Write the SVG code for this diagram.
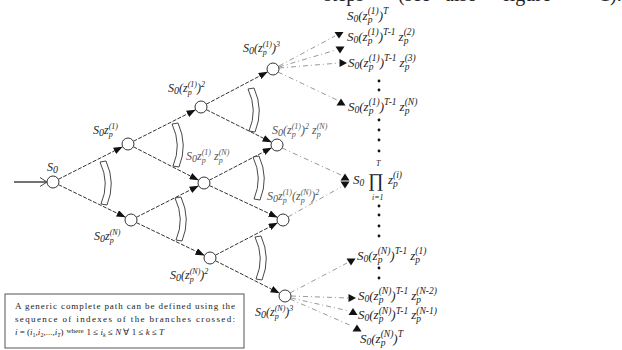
<svg xmlns="http://www.w3.org/2000/svg" width="622" height="350" viewBox="0 0 622 350">
<defs>
<style>
.m{font-family:"Liberation Serif","Times New Roman",serif;font-style:italic;font-size:12px;fill:#222}
.r{font-size:13px}
.b{font-size:8px}
.rb{font-size:9.5px}
.c{font-size:10px}
.g{fill:#555}
.nd{fill:#fff;stroke:#333;stroke-width:1}
.e{stroke:#333;stroke-width:1;stroke-dasharray:4 1.5;fill:none}
.d{stroke:#999;stroke-width:1;stroke-dasharray:5 3 1 3;fill:none}
.ah{fill:#111}
.br{fill:#fff;stroke:#333;stroke-width:0.9}
.bx{font-family:"Liberation Serif","Times New Roman",serif;font-size:9px;fill:#222}
.top{font-family:"Liberation Serif","Times New Roman",serif;font-size:20px;fill:#222}
.dot{fill:#111}
.pr{font-family:"Liberation Serif","Times New Roman",serif;font-size:19px;fill:#222}
</style>
<marker id="ar" markerWidth="9" markerHeight="7" refX="9" refY="3.5" orient="auto" markerUnits="userSpaceOnUse"><path d="M0,0 L9,3.5 L0,7 z" fill="#111"/></marker>
<path id="brk" d="M-5,-21 Q5,0 -4,21 L2,22 Q11,0 1,-22 Z"/>
</defs>

<g id="page-text">
<text class="top" x="324" y="0.5">steps</text>
<text class="top" x="398" y="0.5">(see</text>
<text class="top" x="445" y="0.5">also</text>
<text class="top" x="503" y="0.5">figure</text>
<text class="top" x="600" y="0.5">1).</text>
</g>

<g id="connectors">
<line x1="14" y1="182" x2="46" y2="182" stroke="#444" stroke-width="1.5"/>
<polyline points="40,177.5 47,182 40,186.5" fill="none" stroke="#444" stroke-width="1"/>
<line class="e" x1="58.35" y1="179.29" x2="122.65" y2="146.71" marker-end="url(#ar)"/>
<line class="e" x1="58.39" y1="184.63" x2="125.61" y2="217.37" marker-end="url(#ar)"/>
<line class="e" x1="133.35" y1="141.29" x2="195.65" y2="109.71" marker-end="url(#ar)"/>
<line class="e" x1="133.34" y1="146.74" x2="198.66" y2="180.26" marker-end="url(#ar)"/>
<line class="e" x1="136.35" y1="217.29" x2="198.65" y2="185.71" marker-end="url(#ar)"/>
<line class="e" x1="136.41" y1="222.6" x2="204.59" y2="255.4" marker-end="url(#ar)"/>
<line class="e" x1="206.31" y1="104.2" x2="267.69" y2="71.8" marker-end="url(#ar)"/>
<line class="e" x1="206.37" y1="109.68" x2="271.63" y2="142.32" marker-end="url(#ar)"/>
<line class="e" x1="209.32" y1="180.23" x2="271.68" y2="147.77" marker-end="url(#ar)"/>
<line class="e" x1="209.43" y1="185.54" x2="277.57" y2="217.46" marker-end="url(#ar)"/>
<line class="e" x1="215.32" y1="255.23" x2="277.68" y2="222.77" marker-end="url(#ar)"/>
<line class="e" x1="215.35" y1="260.71" x2="279.65" y2="293.29" marker-end="url(#ar)"/>

<line class="d" x1="279" y1="66" x2="335" y2="36"/>
<line class="d" x1="279" y1="67" x2="336" y2="50"/>
<line class="d" x1="279" y1="68" x2="339" y2="63"/>
<line class="d" x1="278" y1="72" x2="337" y2="100"/>
<line class="d" x1="282" y1="148" x2="341" y2="175"/>
<line class="d" x1="288" y1="217" x2="341" y2="187"/>
<line class="d" x1="290" y1="293" x2="347" y2="263"/>
<line class="d" x1="291" y1="296" x2="348" y2="298"/>
<line class="d" x1="291" y1="298" x2="349" y2="311"/>
<line class="d" x1="290" y1="299" x2="352" y2="326"/>

<polygon class="ah" points="334.5,32 343.5,32 339,38.5"/>
<polygon class="ah" points="335.5,46.5 344.5,46.5 340,53.5"/>
<polygon class="ah" points="339.5,59 339.5,67 347,63"/>
<polygon class="ah" points="336.5,105.5 345.5,105.5 341,98.5"/>
<polygon class="ah" points="340.5,180.5 349.5,180.5 345,173.5"/>
<polygon class="ah" points="340.5,181.5 349.5,181.5 345,188.5"/>
<polygon class="ah" points="346.5,258.5 355.5,258.5 351,265.5"/>
<polygon class="ah" points="348.5,294 348.5,302 356,298"/>
<polygon class="ah" points="348.5,315 357.5,315 353,308"/>
<polygon class="ah" points="352.5,331.5 361.5,331.5 357,324.5"/>
</g>

<g id="brackets">
<use href="#brk" class="br" transform="translate(105,183)"/>
<use href="#brk" class="br" transform="translate(177,145)"/>
<use href="#brk" class="br" transform="translate(180,219)"/>
<use href="#brk" class="br" transform="translate(253,110)"/>
<use href="#brk" class="br" transform="translate(258,178)"/>
<use href="#brk" class="br" transform="translate(260,258)"/>
</g>

<g id="n0">
<circle class="nd" cx="53" cy="182" r="6"/>
<text class="m" x="47" y="171">S<tspan class="c" dy="2">0</tspan></text>
</g>
<g id="n1a">
<circle class="nd" cx="128" cy="144" r="6"/>
<text class="m" x="93" y="134">S<tspan class="c" dy="2">0</tspan><tspan dy="-2">z</tspan><tspan class="b" dy="3">p</tspan><tspan class="b" dx="-4" dy="-8">(1)</tspan></text>
</g>
<g id="n1b">
<circle class="nd" cx="131" cy="220" r="6"/>
<text class="m" x="94" y="240">S<tspan class="c" dy="2">0</tspan><tspan dy="-2">z</tspan><tspan class="b" dy="3">p</tspan><tspan class="b" dx="-4" dy="-8">(N)</tspan></text>
</g>
<g id="n2a">
<circle class="nd" cx="201" cy="107" r="6"/>
<text class="m" x="168" y="92">S<tspan class="c" dy="2">0</tspan><tspan dy="-2">(z</tspan><tspan class="b" dy="3">p</tspan><tspan class="b" dx="-4" dy="-8">(1)</tspan><tspan dy="5">)</tspan><tspan class="b" dy="-5">2</tspan></text>
</g>
<g id="n2b">
<circle class="nd" cx="204" cy="183" r="6"/>
<text class="m g" x="186" y="160">S<tspan class="c" dy="2">0</tspan><tspan dy="-2">z</tspan><tspan class="b" dy="3">p</tspan><tspan class="b" dx="-4" dy="-8">(1)</tspan><tspan dy="5" dx="3">z</tspan><tspan class="b" dy="3">p</tspan><tspan class="b" dx="-4" dy="-8">(N)</tspan></text>
</g>
<g id="n2c">
<circle class="nd" cx="210" cy="258" r="6"/>
<text class="m" x="170" y="279">S<tspan class="c" dy="2">0</tspan><tspan dy="-2">(z</tspan><tspan class="b" dy="3">p</tspan><tspan class="b" dx="-4" dy="-8">(N)</tspan><tspan dy="5">)</tspan><tspan class="b" dy="-5">2</tspan></text>
</g>
<g id="n3a">
<circle class="nd" cx="273" cy="69" r="6"/>
<text class="m" x="243" y="52">S<tspan class="c" dy="2">0</tspan><tspan dy="-2">(z</tspan><tspan class="b" dy="3">p</tspan><tspan class="b" dx="-4" dy="-8">(1)</tspan><tspan dy="5">)</tspan><tspan class="b" dy="-5">3</tspan></text>
</g>
<g id="n3b">
<circle class="nd" cx="277" cy="145" r="6"/>
<text class="m g" x="272" y="134">S<tspan class="c" dy="2">0</tspan><tspan dy="-2">(z</tspan><tspan class="b" dy="3">p</tspan><tspan class="b" dx="-4" dy="-8">(1)</tspan><tspan dy="5">)</tspan><tspan class="b" dy="-5">2</tspan><tspan dy="5" dx="3">z</tspan><tspan class="b" dy="3">p</tspan><tspan class="b" dx="-4" dy="-8">(N)</tspan></text>
</g>
<g id="n3c">
<circle class="nd" cx="283" cy="220" r="6"/>
<text class="m g" x="267" y="200">S<tspan class="c" dy="2">0</tspan><tspan dy="-2">z</tspan><tspan class="b" dy="3">p</tspan><tspan class="b" dx="-4" dy="-8">(1)</tspan><tspan dy="5">(z</tspan><tspan class="b" dy="3">p</tspan><tspan class="b" dx="-4" dy="-8">(N)</tspan><tspan dy="5">)</tspan><tspan class="b" dy="-5">2</tspan></text>
</g>
<g id="n3d">
<circle class="nd" cx="285" cy="296" r="6"/>
<text class="m" x="255" y="316">S<tspan class="c" dy="2">0</tspan><tspan dy="-2">(z</tspan><tspan class="b" dy="3">p</tspan><tspan class="b" dx="-4" dy="-8">(N)</tspan><tspan dy="5">)</tspan><tspan class="b" dy="-5">3</tspan></text>
</g>

<g id="r1">
<text class="m r" x="347" y="20">S<tspan class="rb" dy="2">0</tspan><tspan dy="-2">(z</tspan><tspan class="rb" dy="3">p</tspan><tspan class="rb" dx="-4.75" dy="-9">(1)</tspan><tspan dy="6">)</tspan><tspan class="rb" dy="-6">T</tspan></text>
</g>
<g id="r2">
<text class="m r" x="347" y="41">S<tspan class="rb" dy="2">0</tspan><tspan dy="-2">(z</tspan><tspan class="rb" dy="3">p</tspan><tspan class="rb" dx="-4.75" dy="-9">(1)</tspan><tspan dy="6">)</tspan><tspan class="rb" dy="-6">T-1</tspan><tspan dy="6" dx="3">z</tspan><tspan class="rb" dy="3">p</tspan><tspan class="rb" dx="-4.75" dy="-9">(2)</tspan></text>
</g>
<g id="r3">
<text class="m r" x="348" y="67">S<tspan class="rb" dy="2">0</tspan><tspan dy="-2">(z</tspan><tspan class="rb" dy="3">p</tspan><tspan class="rb" dx="-4.75" dy="-9">(1)</tspan><tspan dy="6">)</tspan><tspan class="rb" dy="-6">T-1</tspan><tspan dy="6" dx="3">z</tspan><tspan class="rb" dy="3">p</tspan><tspan class="rb" dx="-4.75" dy="-9">(3)</tspan></text>
</g>
<g id="r4">
<text class="m r" x="348" y="111">S<tspan class="rb" dy="2">0</tspan><tspan dy="-2">(z</tspan><tspan class="rb" dy="3">p</tspan><tspan class="rb" dx="-4.75" dy="-9">(1)</tspan><tspan dy="6">)</tspan><tspan class="rb" dy="-6">T-1</tspan><tspan dy="6" dx="3">z</tspan><tspan class="rb" dy="3">p</tspan><tspan class="rb" dx="-4.75" dy="-9">(N)</tspan></text>
</g>
<g id="r5">
<text class="m r" x="353" y="184">S<tspan class="rb" dy="2">0</tspan></text>
<text class="pr" x="368" y="187">∏</text>
<text class="m b" x="376" y="166">T</text>
<text class="m b" x="372" y="200">i=1</text>
<text class="m r" x="388" y="184">z<tspan class="rb" dy="3">p</tspan><tspan class="rb" dx="-4.75" dy="-9">(i)</tspan></text>
</g>
<g id="r6">
<text class="m r" x="357" y="260">S<tspan class="rb" dy="2">0</tspan><tspan dy="-2">(z</tspan><tspan class="rb" dy="3">p</tspan><tspan class="rb" dx="-4.75" dy="-9">(N)</tspan><tspan dy="6">)</tspan><tspan class="rb" dy="-6">T-1</tspan><tspan dy="6" dx="3">z</tspan><tspan class="rb" dy="3">p</tspan><tspan class="rb" dx="-4.75" dy="-9">(1)</tspan></text>
</g>
<g id="r7">
<text class="m r" x="358" y="300">S<tspan class="rb" dy="2">0</tspan><tspan dy="-2">(z</tspan><tspan class="rb" dy="3">p</tspan><tspan class="rb" dx="-4.75" dy="-9">(N)</tspan><tspan dy="6">)</tspan><tspan class="rb" dy="-6">T-1</tspan><tspan dy="6" dx="3">z</tspan><tspan class="rb" dy="3">p</tspan><tspan class="rb" dx="-4.75" dy="-9">(N-2)</tspan></text>
</g>
<g id="r8">
<text class="m r" x="358" y="319">S<tspan class="rb" dy="2">0</tspan><tspan dy="-2">(z</tspan><tspan class="rb" dy="3">p</tspan><tspan class="rb" dx="-4.75" dy="-8">(N)</tspan><tspan dy="5">)</tspan><tspan class="rb" dy="-5">T-1</tspan><tspan dy="5" dx="3">z</tspan><tspan class="rb" dy="3">p</tspan><tspan class="rb" dx="-4.75" dy="-8">(N-1)</tspan></text>
</g>
<g id="r9">
<text class="m r" x="360" y="343">S<tspan class="rb" dy="2">0</tspan><tspan dy="-2">(z</tspan><tspan class="rb" dy="3">p</tspan><tspan class="rb" dx="-4.75" dy="-9">(N)</tspan><tspan dy="6">)</tspan><tspan class="rb" dy="-6">T</tspan></text>
</g>

<g id="dots">
<circle class="dot" cx="379" cy="81" r="1.4"/>
<circle class="dot" cx="379" cy="90" r="1.4"/>
<circle class="dot" cx="379" cy="120" r="1.4"/>
<circle class="dot" cx="379" cy="130" r="1.4"/>
<circle class="dot" cx="379" cy="140" r="1.4"/>
<circle class="dot" cx="379" cy="151" r="1.4"/>
<circle class="dot" cx="379" cy="206" r="1.4"/>
<circle class="dot" cx="379" cy="215" r="1.4"/>
<circle class="dot" cx="379" cy="226" r="1.4"/>
<circle class="dot" cx="379" cy="236" r="1.4"/>
<circle class="dot" cx="379" cy="268" r="1.4"/>
<circle class="dot" cx="379" cy="278" r="1.4"/>
</g>

<g id="note">
<rect x="5" y="294" width="239" height="54" fill="#fff" stroke="#555" stroke-width="1"/>
<text class="bx" x="15" y="309" textLength="220" lengthAdjust="spacing">A generic complete path can be defined using the</text>
<text class="bx" x="15" y="322" textLength="220" lengthAdjust="spacing">sequence of indexes of the branches crossed:</text>
<text class="bx" x="15" y="335"><tspan font-style="italic">i</tspan> = (<tspan font-style="italic">i</tspan><tspan font-size="6" dy="2">1</tspan><tspan dy="-2">,</tspan><tspan font-style="italic">i</tspan><tspan font-size="6" dy="2">2</tspan><tspan dy="-2">,...,</tspan><tspan font-style="italic">i</tspan><tspan font-size="6" font-style="italic" dy="2">T</tspan><tspan dy="-2">)</tspan><tspan font-size="7" dy="-2" dx="3">where</tspan><tspan dy="2" dx="3">1 ≤ </tspan><tspan font-style="italic">i</tspan><tspan font-size="6" font-style="italic" dy="2">k</tspan><tspan dy="-2"> ≤ </tspan><tspan font-style="italic">N</tspan> ∀ 1 ≤ <tspan font-style="italic">k</tspan> ≤ <tspan font-style="italic">T</tspan></text>
</g>
</svg>
